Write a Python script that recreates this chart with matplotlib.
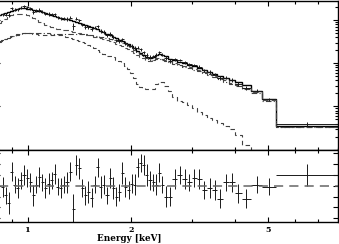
import numpy as np
import matplotlib
matplotlib.use("Agg")
import matplotlib.pyplot as plt
from matplotlib.ticker import FixedLocator, NullFormatter, MultipleLocator

# bin edges [keV]
edges = [0.800, 0.817, 0.834, 0.851, 0.869, 0.887, 0.905, 0.924, 0.943, 0.963,
         0.983, 1.003, 1.024, 1.045, 1.067, 1.089, 1.112, 1.135, 1.159, 1.183,
         1.208, 1.233, 1.259, 1.285, 1.312, 1.339, 1.367, 1.395, 1.424, 1.454,
         1.484, 1.515, 1.547, 1.579, 1.612, 1.646, 1.680, 1.715, 1.751, 1.787,
         1.824, 1.862, 1.901, 1.941, 1.981, 2.022, 2.064, 2.107, 2.151, 2.196,
         2.242, 2.289, 2.337, 2.386, 2.436, 2.487, 2.550,
         2.63, 2.72, 2.81, 2.90, 3.00, 3.10, 3.20, 3.32, 3.44, 3.56, 3.70,
         3.85, 4.00, 4.20, 4.45, 4.81, 5.28, 8.00]

# total model [counts/s/keV]
model_total = [1.16, 1.29, 1.38, 1.48, 1.58, 1.66, 1.73, 1.80, 1.86, 1.89,
               1.85, 1.81, 1.74, 1.67, 1.60, 1.52, 1.45, 1.38, 1.31, 1.24,
               1.19, 1.13, 1.09, 1.04, 0.995, 0.943, 0.899, 0.852, 0.804, 0.759,
               0.746, 0.700, 0.654, 0.613, 0.569, 0.526, 0.485, 0.446, 0.411, 0.378,
               0.349, 0.322, 0.296, 0.273, 0.247, 0.221, 0.196, 0.174, 0.152, 0.141,
               0.133, 0.143, 0.152, 0.162, 0.155, 0.145,
               0.126, 0.117, 0.108, 0.100, 0.0923, 0.0857, 0.0791, 0.0715, 0.0636,
               0.0569, 0.0509, 0.0448, 0.0401, 0.0360, 0.0309, 0.0229, 0.0150, 0.00356]

# model components
comp_a = [0.830, 0.880, 0.974, 1.077, 1.185, 1.284, 1.37, 1.40, 1.41, 1.38,
          1.32, 1.23, 1.11, 1.01, 0.914, 0.843, 0.779, 0.727, 0.689, 0.664,
          0.636, 0.613, 0.594, 0.575, 0.554, 0.537, 0.520, 0.504, 0.488, 0.472,
          0.458, 0.439, 0.416, 0.396, 0.378, 0.361, 0.342, 0.326, 0.304, 0.285,
          0.268, 0.247, 0.227, 0.209, 0.191, 0.174, 0.157, 0.142, 0.129, 0.120,
          0.114, 0.122, 0.130, 0.133, 0.127, 0.121,
          0.110, 0.102, 0.094, 0.088, 0.081, 0.075, 0.069, 0.063, 0.056,
          0.050, 0.045, 0.040, 0.0351, 0.0315, 0.0270, 0.0217, 0.0138, 0.00338]

comp_b = [0.317, 0.333, 0.352, 0.374, 0.394, 0.416, 0.437, 0.460, 0.478, 0.490,
          0.504, 0.514, 0.509, 0.506, 0.501, 0.498, 0.493, 0.490, 0.488, 0.488,
          0.488, 0.488, 0.488, 0.488, 0.488, 0.483, 0.480, 0.475, 0.467, 0.460,
          0.453, 0.443, 0.434, 0.423, 0.411, 0.399, 0.386, 0.372, 0.354, 0.336,
          0.320, 0.297, 0.273, 0.252, 0.229, 0.206, 0.185, 0.166, 0.144, 0.130,
          0.119, 0.121, 0.123, 0.126, 0.120, 0.115,
          0.105, 0.097, 0.090, 0.083, 0.077, 0.071, 0.066, 0.060, 0.053,
          0.047, 0.042, 0.037, 0.0333, 0.0299, 0.0256, 0.0206, 0.0135, 0.0033]

comp_c = [0.294, 0.310, 0.336, 0.364, 0.394, 0.427, 0.450, 0.475, 0.488, 0.501,
          0.501, 0.501, 0.488, 0.475, 0.463, 0.463, 0.463, 0.463, 0.463, 0.463,
          0.463, 0.450, 0.439, 0.416, 0.394, 0.374, 0.354, 0.336, 0.310, 0.287,
          0.265, 0.244, 0.220, 0.198, 0.182, 0.164, 0.151, 0.144, 0.136, 0.122,
          0.110, 0.102, 0.0867, 0.0739, 0.0597, 0.0458, 0.0333, 0.0284, 0.0262, 0.0248,
          0.0248, 0.0255, 0.0333, 0.0370, 0.0360, 0.0299,
          0.0229, 0.0167, 0.0135, 0.0128, 0.0109, 0.0093, 0.0075, 0.0064, 0.0055,
          0.0049, 0.0042, 0.00356, 0.00304, 0.00221, 0.0013, 0.00058, 0.00026, 0.00007]

# data / model ratio and its error
ratio = [0.96, 1.00, 0.99, 0.91, 0.84, 1.13, 1.01, 0.98, 1.05, 1.10,
         1.07, 1.03, 0.91, 1.01, 1.08, 1.03, 0.98, 1.02, 1.05, 1.11,
         0.99, 0.98, 1.01, 1.03, 1.13, 0.78, 1.19, 1.16, 0.98, 0.91,
         0.94, 0.89, 1.01, 1.17, 0.99, 1.01, 0.91, 1.07, 0.98, 0.90,
         0.94, 1.12, 0.99, 0.96, 1.02, 1.01, 1.17, 1.21, 1.19, 1.10,
         1.05, 1.03, 1.01, 1.12, 1.01, 0.90,
         0.90, 1.06, 1.10, 1.06, 1.03, 1.07, 1.06, 0.96, 0.98,
         0.96, 0.88, 1.03, 1.03, 0.93, 0.88, 1.01, 0.99, 1.10]

ratio_err = [0.09, 0.08, 0.09, 0.08, 0.10, 0.09, 0.08, 0.09, 0.08, 0.09,
             0.08, 0.09, 0.10, 0.08, 0.09, 0.08, 0.09, 0.10, 0.08, 0.09,
             0.08, 0.09, 0.08, 0.10, 0.09, 0.14, 0.09, 0.10, 0.08, 0.09,
             0.10, 0.09, 0.08, 0.09, 0.10, 0.09, 0.08, 0.09, 0.10, 0.09,
             0.08, 0.10, 0.09, 0.08, 0.09, 0.10, 0.09, 0.08, 0.09, 0.10,
             0.09, 0.08, 0.10, 0.09, 0.08, 0.10,
             0.09, 0.09, 0.08, 0.09, 0.08, 0.08, 0.09, 0.08, 0.09,
             0.09, 0.09, 0.08, 0.09, 0.09, 0.09, 0.08, 0.08, 0.10]

xticks = [1, 2, 5]
xtick_labels = ["1", "2", "5"]
xminor = [0.8, 0.9, 3, 4, 6, 7, 8]

edges = np.array(edges)
lo, hi = edges[:-1], edges[1:]
emid = np.sqrt(lo * hi)
xerr = [emid - lo, hi - emid]
model_total = np.array(model_total)
ratio = np.array(ratio)
ratio_err = np.array(ratio_err)
counts = model_total * ratio
counts_err = model_total * ratio_err

W, H = 339, 244
fig = plt.figure(figsize=(W / 100, H / 100), dpi=100)
left = -5.2 / W
width = (338.2 + 5.2) / W
ax1 = fig.add_axes([left, 1 - 149.5 / H, width, 149.0 / H])
ax2 = fig.add_axes([left, 1 - 222 / H, width, 72.5 / H])

# spectrum
ax1.errorbar(emid, counts, xerr=xerr, yerr=counts_err, fmt="none",
             ecolor="0.1", elinewidth=0.7, capsize=0)
ax1.stairs(model_total, edges, baseline=None, color="k", lw=1.0)
ax1.stairs(comp_a, edges, baseline=None, color="0.3", lw=0.8, ls=(0, (5, 3)))
ax1.stairs(comp_b, edges, baseline=None, color="0.25", lw=0.8, ls=(0, (5, 2, 1, 2)))
ax1.stairs(comp_c, edges, baseline=None, color="0.25", lw=0.8, ls=(0, (4, 3)))
ax1.set_yscale("log")
ax1.set_ylim(1e-3, 2.85)

# ratio
ax2.errorbar(emid, ratio, xerr=xerr, yerr=ratio_err, fmt="none",
             ecolor="0.1", elinewidth=0.7, capsize=0)
ax2.axhline(1.0, color="0.4", lw=1.1, ls=(0, (6, 4)))
ax2.set_ylim(0.664, 1.335)
ax2.yaxis.set_major_locator(MultipleLocator(0.1))

for ax in (ax1, ax2):
    ax.set_xscale("log")
    ax.set_xlim(0.8, 8.0)
    ax.xaxis.set_major_locator(FixedLocator(xticks))
    ax.xaxis.set_minor_locator(FixedLocator(xminor))
    ax.xaxis.set_minor_formatter(NullFormatter())
    ax.tick_params(which="both", direction="in", top=True, right=True,
                   width=0.8, labelleft=False)
    ax.tick_params(which="major", length=3.6)
    ax.tick_params(which="minor", length=2.0)
    for s in ax.spines.values():
        s.set_linewidth(1.0)

ax1.tick_params(labelbottom=False)
ax2.set_xticklabels(xtick_labels, fontfamily="DejaVu Serif",
                    fontweight="bold", fontsize=5.8)
ax2.tick_params(axis="x", pad=3)

fig.text(129 / W, 1 - 238.5 / H, "Energy [keV]", ha="center", va="center",
         fontfamily="DejaVu Serif", fontweight="bold", fontsize=6.3)

fig.savefig("out.png", dpi=100)
